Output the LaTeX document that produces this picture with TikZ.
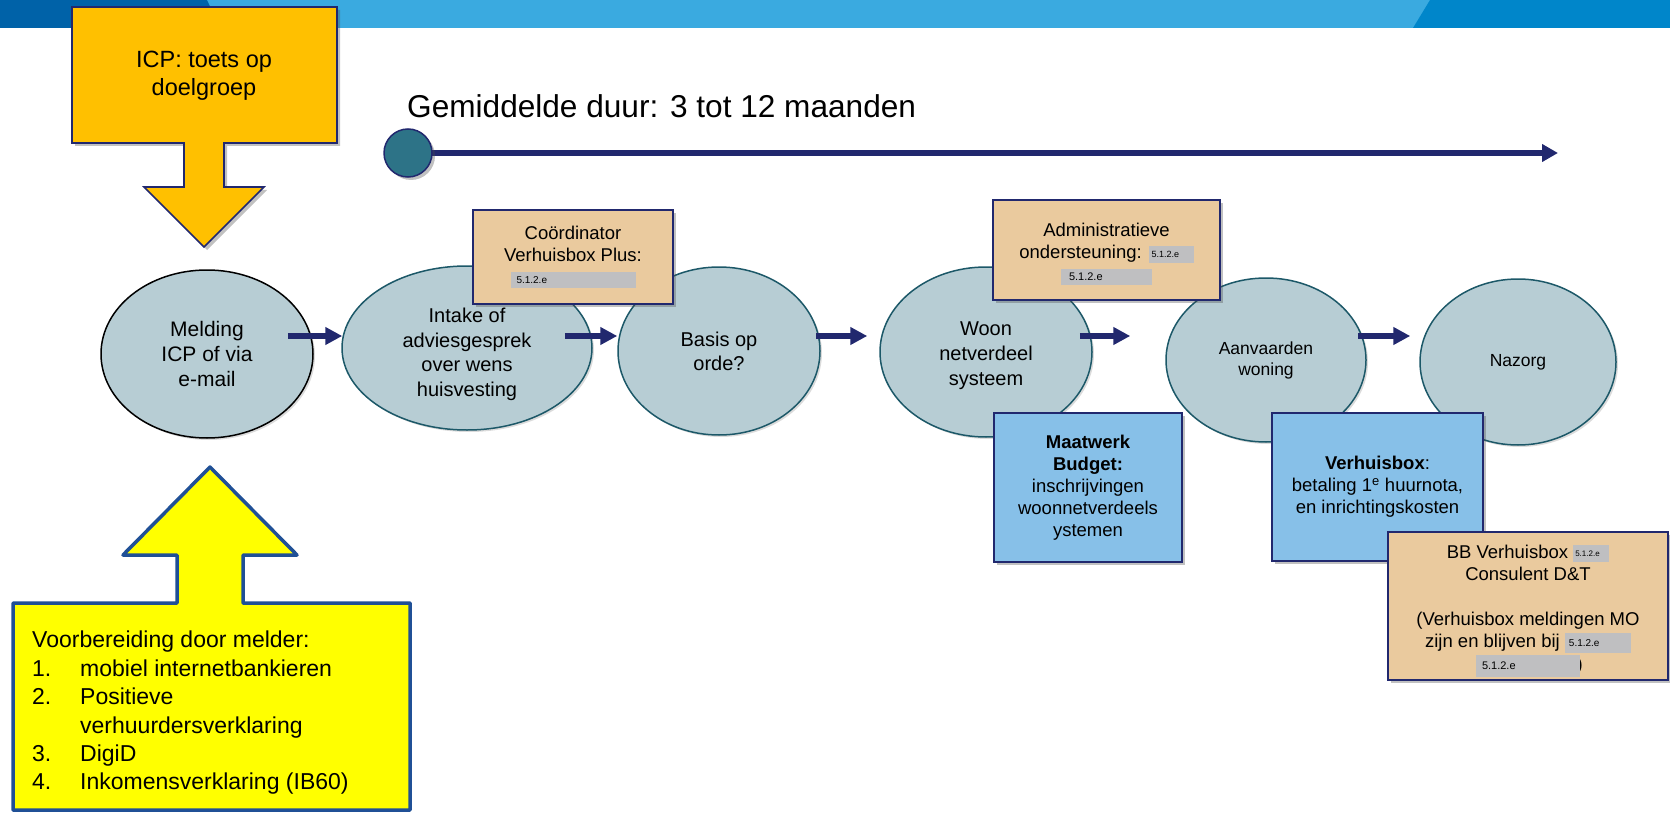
\documentclass[tikz,border=0pt]{standalone}
\usepackage{fontspec}
\setmainfont{Liberation Sans}
\usetikzlibrary{arrows.meta,shapes.geometric,shadows}

\definecolor{bannerlight}{RGB}{58,170,224}
\definecolor{bannerleft}{RGB}{0,98,168}
\definecolor{bannerright}{RGB}{0,134,202}
\definecolor{navy}{RGB}{33,40,110}
\definecolor{ellfill}{RGB}{183,205,212}
\definecolor{elldraw}{RGB}{28,88,104}
\definecolor{obfill}{RGB}{234,202,158}
\definecolor{bbfill}{RGB}{135,192,232}
\definecolor{icpfill}{RGB}{255,192,0}
\definecolor{prepfill}{RGB}{255,255,0}
\definecolor{prepdraw}{RGB}{32,80,150}
\definecolor{dotfill}{RGB}{45,115,135}
\definecolor{redact}{RGB}{191,191,193}

\newcommand{\setfs}[2]{\fontsize{#1}{#2}\selectfont}
% grey blanked-out field: width, height, font size, left indent
\newcommand{\redbox}[4]{{\setlength{\fboxsep}{0pt}\colorbox{redact}{\parbox[c][#2][c]{#1}{\setfs{#3}{#3}\hspace*{#4}5.1.2.e}}}}
% invisible strut that pushes a centred text block downwards
\newcommand{\lift}[1]{\rule{0pt}{#1}}

\begin{document}
\begin{tikzpicture}[x=1pt,y=-1pt,
  softshadow/.style={drop shadow={shadow xshift=3pt,shadow yshift=-3pt,opacity=0.35,fill=black!70}},
  ell/.style={ellipse,draw=elldraw,line width=1.5pt,fill=ellfill,inner sep=0pt,align=center,
    drop shadow={shadow xshift=2pt,shadow yshift=-2pt,opacity=0.2,fill=black!70}},
  obox/.style={rectangle,draw=navy,line width=1.8pt,fill=obfill,inner sep=0pt,align=center,
    font=\setfs{18.5}{22.5},softshadow},
  bbox/.style={rectangle,draw=navy,line width=1.8pt,fill=bbfill,inner sep=0pt,align=center,
    font=\setfs{18.5}{22},softshadow},
  flow/.style={draw=navy,line width=6pt,-{Triangle[length=17pt,width=17pt]}},
  timeline/.style={draw=navy,line width=5.5pt,-{Triangle[length=16pt,width=17pt]}}
]
\useasboundingbox (0,0) rectangle (1670,813);

% header band
\fill[bannerlight] (0,0) rectangle (1670,28);
\fill[bannerleft] (0,0) -- (207,0) -- (220,28) -- (0,28) -- cycle;
\fill[bannerright] (1430,0) -- (1670,0) -- (1670,28) -- (1413,28) -- cycle;

% duration timeline
\node[anchor=west,inner sep=0pt,font=\setfs{31.6}{36}] (dur) at (407,106) {Gemiddelde duur: 3 tot 12 maanden};
\coordinate (tend) at (1558,153);
\draw[timeline] (408,153) -- (tend);
\node[circle,draw=navy,line width=1.5pt,fill=dotfill,minimum size=48pt,inner sep=0pt,softshadow] (tc) at (408,153) {};

% process steps
\node[ell,draw=black,minimum width=212pt,minimum height=168pt,font=\setfs{21}{25}] (e1) at (207,354) {Melding\\ICP of via\\e-mail};
\node[ell,minimum width=250pt,minimum height=164pt,font=\setfs{20}{24.5}] (e2) at (467,348) {\lift{27pt}Intake of\\adviesgesprek\\over wens\\huisvesting};
\node[ell,minimum width=202pt,minimum height=168pt,font=\setfs{20}{24}] (e3) at (719,351) {Basis op\\orde?};
\node[ell,minimum width=212pt,minimum height=170pt,font=\setfs{20}{25}] (e4) at (986,352) {\lift{20.5pt}Woon\\netverdeel\\systeem};
\node[ell,minimum width=200pt,minimum height=164pt,font=\setfs{17.5}{21}] (e5) at (1266,360) {Aanvaarden\\woning};
\node[ell,minimum width=196pt,minimum height=166pt,font=\setfs{17.5}{21}] (e6) at (1518,362) {Nazorg};

% step arrows
\draw[flow] ([shift={(-26,-18)}]e1.east) -- ([shift={(1,-12)}]e2.west);
\draw[flow] ([shift={(-28,-12)}]e2.east) -- ([shift={(0,-15)}]e3.west);
\draw[flow] ([shift={(-5,-15)}]e3.east) -- ([shift={(-12,-16)}]e4.west);
\draw[flow] ([shift={(-13,-16)}]e4.east) -- ([shift={(-35,-24)}]e5.west);
\draw[flow] ([shift={(-9,-24)}]e5.east) -- ([shift={(-9,-26)}]e6.west);

% roles
\node[obox,minimum width=200pt,minimum height=94pt] (coord) at (573,257)
  {Coördinator\\Verhuisbox Plus:\\\redbox{125pt}{16pt}{10}{6pt}};
\node[obox,minimum width=227pt,minimum height=100pt] (admin) at (1106.5,250)
  {\lift{21pt}Administratieve\\ondersteuning: \redbox{45pt}{17pt}{9}{3pt}\\\redbox{91pt}{16pt}{11}{8pt}};

% budgets
\node[bbox,minimum width=188pt,minimum height=149pt] (budget) at (1088,487.5)
  {\textbf{Maatwerk}\\\textbf{Budget:}\\inschrijvingen\\woonnetverdeels\\ystemen};
\node[bbox,minimum width=211pt,minimum height=148pt] (vbox) at (1377.5,487)
  {\textbf{Verhuisbox}:\\betaling 1\textsuperscript{e} huurnota,\\en inrichtingskosten};

\node[obox,minimum width=280pt,minimum height=148pt] (bb) at (1528,606)
  {\lift{23pt}BB Verhuisbox \redbox{36pt}{17pt}{8}{2pt}\\Consulent D\&T\\[22pt]
   (Verhuisbox meldingen MO\\zijn en blijven bij \redbox{66pt}{20pt}{10}{4pt}\\
   \makebox[0pt][l]{\hspace*{100.5pt})}\redbox{104pt}{22pt}{11}{6pt}};

% intake check (down arrow)
\path[draw=navy,line width=1.6pt,fill=icpfill,softshadow]
  (72,7) -- (337,7) -- (337,143) -- (224,143) -- (224,187) -- (264,187) -- (204,247)
  -- (144,187) -- (184,187) -- (184,143) -- (72,143) -- cycle;
\node[align=center,inner sep=0pt,font=\setfs{23.5}{28}] (icp) at (204,76) {ICP: toets op\\doelgroep};

% preparation (up arrow)
\path[draw=prepdraw,line width=3.5pt,fill=prepfill,line join=round]
  (13,603) -- (177,603) -- (177,555) -- (123,555) -- (210,467) -- (297,555) -- (243,555)
  -- (243,603) -- (410,603) -- (410,810) -- (13,810) -- cycle;
\node[anchor=north west,align=left,inner sep=0pt,font=\setfs{23}{28.4}] (prep) at (32,631)
  {Voorbereiding door melder:\\
   \makebox[48pt][l]{1.}mobiel internetbankieren\\
   \makebox[48pt][l]{2.}Positieve\\
   \hspace*{48pt}verhuurdersverklaring\\
   \makebox[48pt][l]{3.}DigiD\\
   \makebox[48pt][l]{4.}Inkomensverklaring (IB60)};
\end{tikzpicture}
\end{document}
